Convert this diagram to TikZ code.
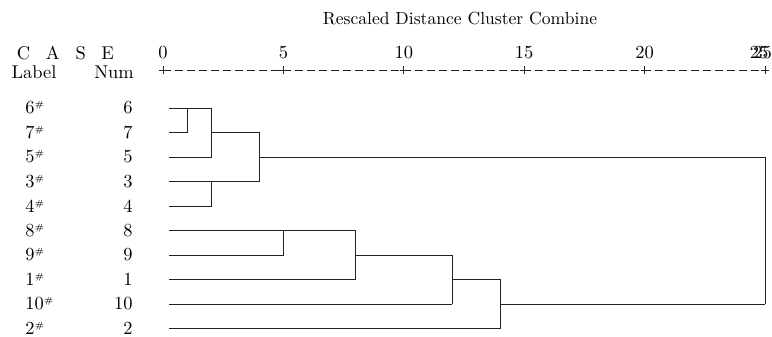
\documentclass[tikz,border=0pt]{standalone}
\usetikzlibrary{positioning}
\definecolor{dendroInk}{RGB}{35,35,35}
\newcommand{\hashmark}{\raisebox{0.75ex}{\fontsize{5}{6}\selectfont\#}}

\begin{document}
\begin{tikzpicture}[
  x=0.2mm,y=-0.2mm,
  every node/.style={font=\fontsize{10.5}{12}\selectfont,inner sep=0pt,text=black},
  caselabel/.style={anchor=west},
  casenum/.style={anchor=east},
  scalenum/.style={anchor=center},
  link/.style={line width=0.5pt,dendroInk},
  scaleline/.style={line width=0.5pt,dendroInk,dash pattern=on 1.6mm off 0.8mm}
]
  \useasboundingbox (0,0) rectangle (772,336);

  % header
  \node[font=\fontsize{10}{12}\selectfont] (title) at (460,18) {Rescaled Distance Cluster Combine};
  \node (case) at (65.5,53) {C\hspace{0.85em}A\hspace{0.85em}S\hspace{0.85em}E};
  \node (label) at (34,72) {Label};
  \node (num) at (114,72) {Num};

  % distance scale
  \coordinate (d0) at (163,70);
  \coordinate (d25) at (765,70);
  \draw[scaleline] (d0) -- (d25);
  \foreach \v in {0,5,...,25}{
    \draw[link] (163+24.08*\v,66) -- ++(0,8);
    \draw[link] (159+24.08*\v,70) -- ++(8,0);
  }
  \node[scalenum] (t0) at (163,53) {0};
  \node[scalenum] (t5) at (283.4,53) {5};
  \node[scalenum] (t10) at (403.8,53) {10};
  \node[scalenum] (t15) at (524.2,53) {15};
  \node[scalenum] (t20) at (644.6,53) {20};
  \node[scalenum] (t25) at (759,53) {25};
  \node[scalenum] (t25b) at (762.5,53) {25};

  % case labels and numbers
  \node[caselabel] (l6) at (25,108) {6\hashmark};
  \node[caselabel] (l7) at (25,132.5) {7\hashmark};
  \node[caselabel] (l5) at (25,157) {5\hashmark};
  \node[caselabel] (l3) at (25,181.5) {3\hashmark};
  \node[caselabel] (l4) at (25,206) {4\hashmark};
  \node[caselabel] (l8) at (25,230.5) {8\hashmark};
  \node[caselabel] (l9) at (25,255) {9\hashmark};
  \node[caselabel] (l1) at (25,279.5) {1\hashmark};
  \node[caselabel] (l10) at (25,304) {10\hashmark};
  \node[caselabel] (l2) at (25,328) {2\hashmark};

  \node[casenum] (n6) at (133,108) {6};
  \node[casenum] (n7) at (133,132.5) {7};
  \node[casenum] (n5) at (133,157) {5};
  \node[casenum] (n3) at (133,181.5) {3};
  \node[casenum] (n4) at (133,206) {4};
  \node[casenum] (n8) at (133,230.5) {8};
  \node[casenum] (n9) at (133,255) {9};
  \node[casenum] (n1) at (133,279.5) {1};
  \node[casenum] (n10) at (133,304) {10};
  \node[casenum] (n2) at (133,328) {2};

  % leaf starts
  \coordinate (s6) at (169,108);
  \coordinate (s7) at (169,132.5);
  \coordinate (s5) at (169,157);
  \coordinate (s3) at (169,181.5);
  \coordinate (s4) at (169,206);
  \coordinate (s8) at (169,230.5);
  \coordinate (s9) at (169,255);
  \coordinate (s1) at (169,279.5);
  \coordinate (s10) at (169,304);
  \coordinate (s2) at (169,328.5);

  % merge points
  \coordinate (c67) at (187,108);
  \coordinate (c675) at (211,108);
  \coordinate (k675) at (211,132.5);
  \coordinate (c34) at (211,181.5);
  \coordinate (c3467) at (259.3,181.5);
  \coordinate (kupper) at (259.3,157);
  \coordinate (c89) at (283.4,230.5);
  \coordinate (c891) at (355.6,230.5);
  \coordinate (k891) at (355.6,255);
  \coordinate (c8910) at (452,304);
  \coordinate (k8910) at (452,279.5);
  \coordinate (c89102) at (500,328.5);
  \coordinate (klower) at (500,304);
  \coordinate (root) at (765,304);

  % upper cluster
  \draw[link] (s6) -- (c675);
  \draw[link] (s7) -| (c67);
  \draw[link] (s5) -| (c675);
  \draw[link] (k675) -| (c3467);
  \draw[link] (s3) -- (c3467);
  \draw[link] (s4) -| (c34);

  % lower cluster
  \draw[link] (s8) -- (c891);
  \draw[link] (s9) -| (c89);
  \draw[link] (s1) -| (c891);
  \draw[link] (k891) -| (c8910);
  \draw[link] (s10) -- (c8910);
  \draw[link] (k8910) -| (c89102);
  \draw[link] (s2) -- (c89102);

  % root
  \draw[link] (kupper) -| (root);
  \draw[link] (klower) -- (root);
\end{tikzpicture}
\end{document}
